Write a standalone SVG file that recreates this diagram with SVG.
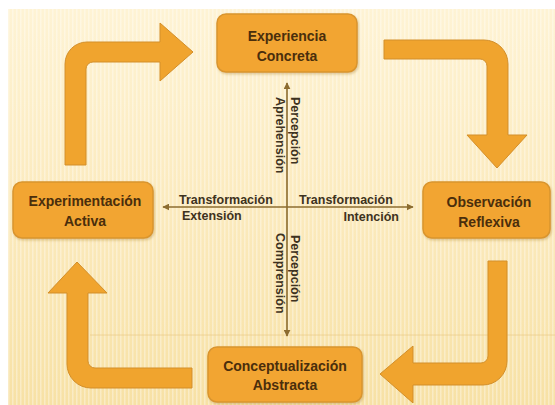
<svg xmlns="http://www.w3.org/2000/svg" width="555" height="405" viewBox="0 0 555 405">
<defs>
<linearGradient id="bg" x1="0" y1="0" x2="0" y2="1">
<stop offset="0" stop-color="#FEF3D4"/>
<stop offset="0.5" stop-color="#FBEABD"/>
<stop offset="1" stop-color="#F7E1A5"/>
</linearGradient>
<pattern id="stripes" width="4" height="10" patternUnits="userSpaceOnUse">
<rect x="0" y="0" width="1.5" height="10" fill="#FFFFFF" opacity="0.35"/>
</pattern>
<marker id="ah" viewBox="0 0 10 10" refX="9" refY="5" markerWidth="7" markerHeight="7" markerUnits="userSpaceOnUse" orient="auto">
<path d="M0,0 L10,5 L0,10 Z" fill="#8C6C30"/>
</marker>
<filter id="sh" x="-10%" y="-10%" width="130%" height="130%">
<feDropShadow dx="1" dy="1.5" stdDeviation="1.2" flood-color="#A07020" flood-opacity="0.35"/>
</filter>
</defs>
<style>
.box{fill:#F2A531;stroke:#D9952F;stroke-width:1.5;filter:url(#sh)}
.bent{fill:#F0A42E;stroke:#D38F2A;stroke-width:1}
.nt{font-family:"Liberation Sans",Arial,sans-serif;font-weight:bold;font-size:14px;fill:#4A2E0C;text-anchor:middle}
.al{font-family:"Liberation Sans",Arial,sans-serif;font-weight:bold;font-size:12.5px;fill:#3E3220}
.axis{stroke:#8C6C30;stroke-width:1.6;fill:none}
</style>
<rect width="555" height="405" fill="#FFFFFF"/>
<rect x="8" y="9" width="547" height="396" fill="url(#bg)"/>
<rect x="8" y="9" width="547" height="396" fill="url(#stripes)"/>
<line x1="90" y1="335" x2="555" y2="335" stroke="#E6C47E" stroke-width="1" opacity="0.6"/>

<g id="connectors">
<path class="bent" d="M65,165 V64 A22,22 0 0 1 87,42 H160 V23 L193,52 L160,81 V62 H93 A7,7 0 0 0 86,69 V165 Z"/>
<path class="bent" d="M384,40 H484 A24,24 0 0 1 508,64 V135 H527 L497,168 L467,135 H487 V66 A7,7 0 0 0 480,59 H384 Z"/>
<path class="bent" d="M488,261 H507 V361 A24,24 0 0 1 483,385 H413 V403 L380,374 L413,346 V363 H481 A7,7 0 0 0 488,356 Z"/>
<path class="bent" d="M192,368 V388 H91 A24,24 0 0 1 67,364 V293 H48 L77,262 L107,293 H88 V361 A7,7 0 0 0 95,368 Z"/>
<line class="axis" x1="287" y1="207" x2="287" y2="83" marker-end="url(#ah)"/>
<line class="axis" x1="287" y1="207" x2="287" y2="336" marker-end="url(#ah)"/>
<line class="axis" x1="287" y1="207" x2="163" y2="207" marker-end="url(#ah)"/>
<line class="axis" x1="287" y1="207" x2="413" y2="207" marker-end="url(#ah)"/>
</g>

<g id="experiencia-concreta">
<rect class="box" x="217" y="14" width="140" height="58" rx="9"/>
<text class="nt" x="287" y="41">Experiencia</text>
<text class="nt" x="287" y="61">Concreta</text>
</g>
<g id="experimentacion-activa">
<rect class="box" x="13" y="182" width="140" height="56" rx="9"/>
<text class="nt" x="85" y="206">Experimentación</text>
<text class="nt" x="85" y="226">Activa</text>
</g>
<g id="observacion-reflexiva">
<rect class="box" x="423" y="182" width="127" height="56" rx="9"/>
<text class="nt" x="489" y="207">Observación</text>
<text class="nt" x="489" y="227">Reflexiva</text>
</g>
<g id="conceptualizacion-abstracta">
<rect class="box" x="208" y="347" width="154" height="55" rx="9"/>
<text class="nt" x="285" y="371">Conceptualización</text>
<text class="nt" x="285" y="390">Abstracta</text>
</g>

<g id="axis-labels">
<text class="al" x="179" y="204">Transformación</text>
<text class="al" x="182" y="220">Extensión</text>
<text class="al" x="299" y="204">Transformación</text>
<text class="al" x="399" y="221" text-anchor="end">Intención</text>
<text class="al" transform="translate(291,97) rotate(90)">Percepción</text>
<text class="al" transform="translate(276,97) rotate(90)">Aprehensión</text>
<text class="al" transform="translate(291,235) rotate(90)">Percepción</text>
<text class="al" transform="translate(276,233) rotate(90)">Comprensión</text>
</g>
</svg>
